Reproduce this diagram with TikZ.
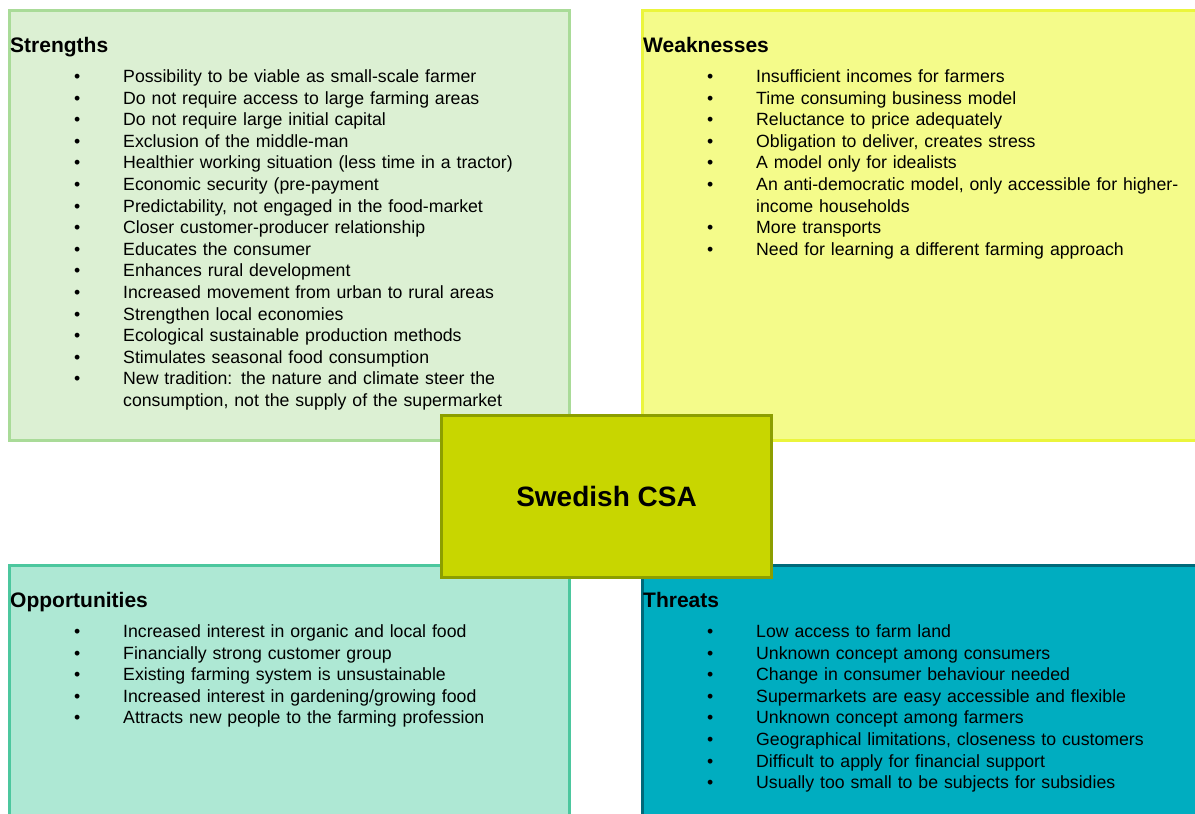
\documentclass[tikz,border=0pt]{standalone}
\usepackage{fontspec}
\setmainfont{Liberation Sans}
\usetikzlibrary{positioning}

\definecolor{strfill}{HTML}{DCF0D3}
\definecolor{strline}{HTML}{A9DB98}
\definecolor{weakfill}{HTML}{F4FB8A}
\definecolor{weakline}{HTML}{EBF53C}
\definecolor{oppfill}{HTML}{AEE8D4}
\definecolor{oppline}{HTML}{4CC79E}
\definecolor{thrfill}{HTML}{00ADC0}
\definecolor{thrline}{HTML}{006A7A}
\definecolor{csafill}{HTML}{C8D600}
\definecolor{csaline}{HTML}{8C9E00}

\newcommand\bul{\makebox[49pt][l]{\textbullet}}

\tikzset{
  quad/.style={draw, line width=3pt, rectangle, inner sep=0pt},
  title/.style={anchor=base west, inner sep=0pt, font=\bfseries\fontsize{21}{25}\selectfont},
  itemlist/.style={anchor=base west, inner sep=0pt, text width=520pt, align=left,
    font=\fontsize{17.7}{21.6}\selectfont},
}

\begin{document}
\begin{tikzpicture}[x=1pt,y=-1pt]
      \clip (0,0) rectangle (1195,814);
      \fill[white] (0,0) rectangle (1195,814);

      % QUADRANTS
      \node[quad, fill=strfill, draw=strline, minimum width=560pt, minimum height=430pt]
        (strengths) at (289,225) {};
      \node[quad, fill=weakfill, draw=weakline, minimum width=568pt, minimum height=430pt]
        (weaknesses) at (926,225) {};
      \node[quad, fill=oppfill, draw=oppline, minimum width=560pt, minimum height=265pt]
        (opportunities) at (289,697.5) {};
      \node[quad, fill=thrfill, draw=thrline, minimum width=568pt, minimum height=265pt]
        (threats) at (926,697.5) {};

      % STRENGTHS
      \node[title] (s-title) at (10,52) {Strengths};
      \node[itemlist] (s-list) at (74,82.5) {%
        \bul Possibility to be viable as small-scale farmer\\
        \bul Do not require access to large farming areas\\
        \bul Do not require large initial capital\\
        \bul Exclusion of the middle-man\\
        \bul Healthier working situation (less time in a tractor)\\
        \bul Economic security (pre-payment\\
        \bul Predictability, not engaged in the food-market\\
        \bul Closer customer-producer relationship\\
        \bul Educates the consumer\\
        \bul Enhances rural development\\
        \bul Increased movement from urban to rural areas\\
        \bul Strengthen local economies\\
        \bul Ecological sustainable production methods\\
        \bul Stimulates seasonal food consumption\\
        \bul New tradition: the nature and climate steer the\\
        \hspace*{49pt}consumption, not the supply of the supermarket};

      % WEAKNESSES
      \node[title] (w-title) at (643,52) {Weaknesses};
      \node[itemlist] (w-list) at (707,82.5) {%
        \bul Insufficient incomes for farmers\\
        \bul Time consuming business model\\
        \bul Reluctance to price adequately\\
        \bul Obligation to deliver, creates stress\\
        \bul A model only for idealists\\
        \bul An anti-democratic model, only accessible for higher-\\
        \hspace*{49pt}income households\\
        \bul More transports\\
        \bul Need for learning a different farming approach};

      % OPPORTUNITIES
      \node[title] (o-title) at (10,607) {Opportunities};
      \node[itemlist] (o-list) at (74,637.5) {%
        \bul Increased interest in organic and local food\\
        \bul Financially strong customer group\\
        \bul Existing farming system is unsustainable\\
        \bul Increased interest in gardening/growing food\\
        \bul Attracts new people to the farming profession};

      % THREATS
      \node[title] (t-title) at (643,607) {Threats};
      \node[itemlist] (t-list) at (707,637.5) {%
        \bul Low access to farm land\\
        \bul Unknown concept among consumers\\
        \bul Change in consumer behaviour needed\\
        \bul Supermarkets are easy accessible and flexible\\
        \bul Unknown concept among farmers\\
        \bul Geographical limitations, closeness to customers\\
        \bul Difficult to apply for financial support\\
        \bul Usually too small to be subjects for subsidies};

      % CENTRE
      \node[quad, fill=csafill, draw=csaline, minimum width=330pt, minimum height=162pt,
        font=\bfseries\fontsize{28}{32}\selectfont] (csa) at (606.5,496) {Swedish CSA};
\end{tikzpicture}
\end{document}
